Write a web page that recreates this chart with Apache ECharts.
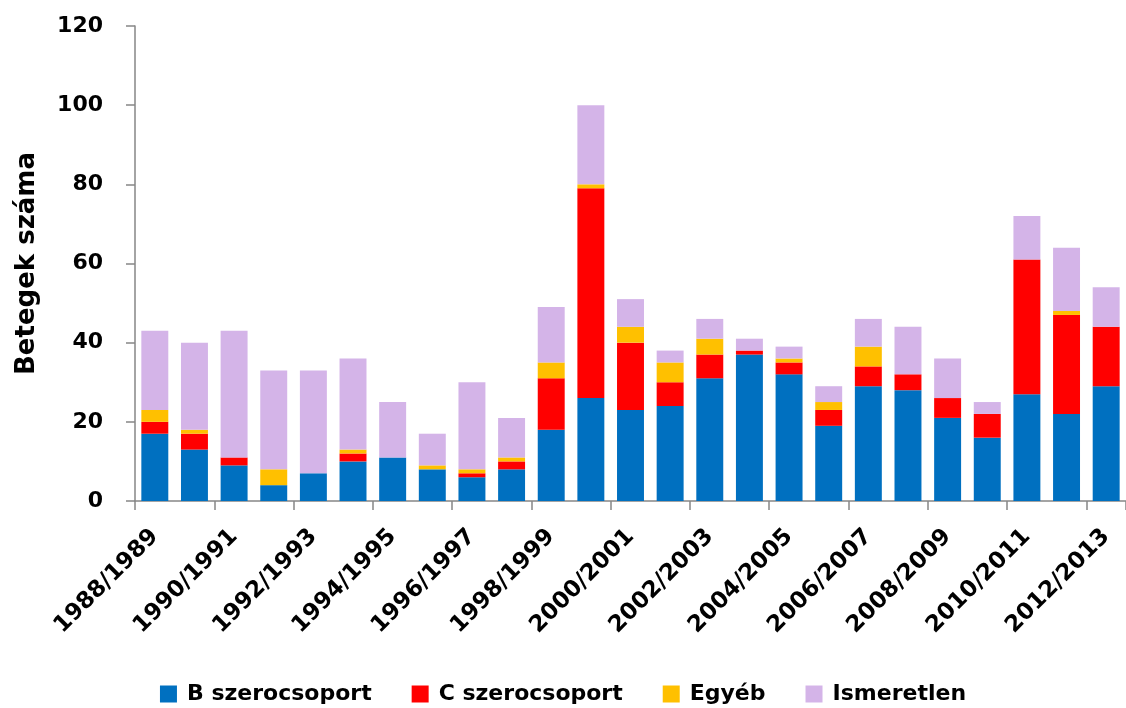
<!DOCTYPE html>
<html>
<head>
<meta charset="utf-8">
<script src="https://cdn.jsdelivr.net/npm/echarts@6/dist/echarts.min.js"></script>
<style>
html,body{margin:0;padding:0;background:#fff;}
#chart{width:1126px;height:708px;}
</style>
</head>
<body>
<div id="chart"></div>
<script>
const categories = ['1988/1989','1989/1990','1990/1991','1991/1992','1992/1993','1993/1994','1994/1995','1995/1996','1996/1997','1997/1998','1998/1999','1999/2000','2000/2001','2001/2002','2002/2003','2003/2004','2004/2005','2005/2006','2006/2007','2007/2008','2008/2009','2009/2010','2010/2011','2011/2012','2012/2013'];
const bSero  = [17,13, 9, 4, 7,10,11, 8, 6, 8,18,26,23,24,31,37,32,19,29,28,21,16,27,22,29];
const cSero  = [ 3, 4, 2, 0, 0, 2, 0, 0, 1, 2,13,53,17, 6, 6, 1, 3, 4, 5, 4, 5, 6,34,25,15];
const egyeb  = [ 3, 1, 0, 4, 0, 1, 0, 1, 1, 1, 4, 1, 4, 5, 4, 0, 1, 2, 5, 0, 0, 0, 0, 1, 0];
const ismeretlen = [20,22,32,25,26,23,14, 8,22,10,14,20, 7, 3, 5, 3, 3, 4, 7,12,10, 3,11,16,10];
const seriesNames = ['B szerocsoport','C szerocsoport','Egyéb','Ismeretlen'];
const colors = ['#0070C0','#FF0000','#FFC000','#D4B4E8'];
const yTicks = {min:0, max:120, interval:20};

const FONT = 'DejaVu Sans';
const chart = echarts.init(document.getElementById('chart'), null, {renderer:'canvas'});
const dataSets = [bSero, cSero, egyeb, ismeretlen];
chart.setOption({
  animation:false,
  backgroundColor:'#fff',
  color: colors,
  grid:{left:135, right:-9, top:26, bottom:207, containLabel:false},
  legend:{
    bottom:-2, left:'center',
    icon:'rect', itemWidth:17, itemHeight:17, itemGap:40,
    textStyle:{fontFamily:FONT, fontWeight:'bold', fontSize:22, color:'#000', padding:[0,0,0,5]},
    data: seriesNames
  },
  xAxis:{
    type:'category', data:categories, boundaryGap:true,
    axisLine:{lineStyle:{color:'#868686', width:1.5}},
    axisTick:{show:true, length:9, lineStyle:{color:'#868686', width:1.5}},
    axisLabel:{interval:1, rotate:45, margin:32, fontFamily:FONT, fontWeight:'bold', fontSize:23, color:'#000'}
  },
  yAxis:{
    type:'value', min:yTicks.min, max:yTicks.max, interval:yTicks.interval,
    name:'Betegek száma', nameLocation:'middle', nameGap:95,
    nameTextStyle:{fontFamily:FONT, fontWeight:'bold', fontSize:26, color:'#000'},
    splitLine:{show:false},
    axisLine:{show:true, lineStyle:{color:'#868686', width:1.5}},
    axisTick:{show:true, length:9, lineStyle:{color:'#868686', width:1.5}},
    axisLabel:{margin:32, fontFamily:FONT, fontWeight:'bold', fontSize:22, color:'#000'}
  },
  series: seriesNames.map((n,i)=>({
    name:n, type:'bar', stack:'total', data:dataSets[i],
    barCategoryGap:'32%',
    itemStyle:{color:colors[i]}
  }))
});
</script>
</body>
</html>
